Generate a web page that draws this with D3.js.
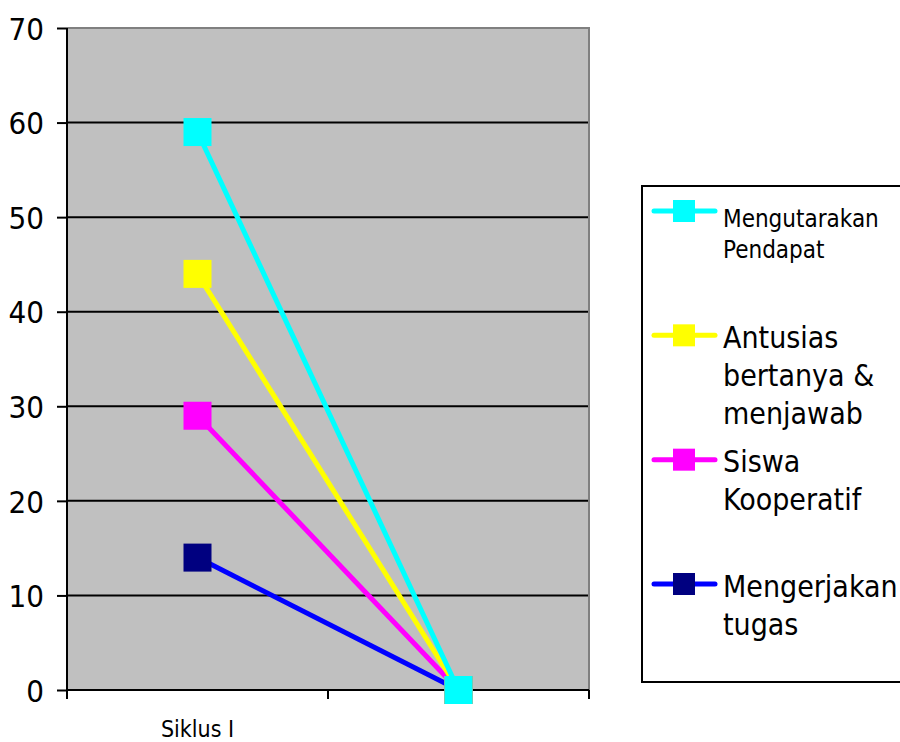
<!DOCTYPE html>
<html>
<head>
<meta charset="utf-8">
<script src="https://cdn.jsdelivr.net/npm/d3@7"></script>
<style>
  html, body { margin: 0; padding: 0; background: #ffffff; }
  svg { display: block; }
  text { font-family: "DejaVu Sans Condensed", "DejaVu Sans", sans-serif; font-stretch: condensed; fill: #000; }
</style>
</head>
<body>
<svg id="chart" width="900" height="742"></svg>
<script>
// Categories on the x axis (second cycle carries no label)
const categories = ["Siklus I", ""];

// Series names (legend lines) and their values per category
const seriesNames = [
  ["Mengutarakan", "Pendapat"],
  ["Antusias", "bertanya &", "menjawab"],
  ["Siswa", "Kooperatif"],
  ["Mengerjakan", "tugas"]
];
const mengutarakanPendapat = [59, 0];
const antusiasBertanya = [44, 0];
const siswaKooperatif = [29, 0];
const mengerjakanTugas = [14, 0];

const yTicks = [0, 10, 20, 30, 40, 50, 60, 70];

// Colours: line colour and marker colour per series
const lineColors = ["#00FFFF", "#FFFF00", "#FF00FF", "#0000FF"];
const markerColors = ["#00FFFF", "#FFFF00", "#FF00FF", "#000080"];

const series = [mengutarakanPendapat, antusiasBertanya, siswaKooperatif, mengerjakanTugas]
  .map((values, i) => ({ name: seriesNames[i], values, line: lineColors[i], marker: markerColors[i], small: i === 0 }));

const svg = d3.select("#chart");

const plot = { left: 67, right: 589, top: 28, bottom: 690 };

const x = d3.scaleBand().domain(d3.range(categories.length)).range([plot.left, plot.right]).padding(0);
const y = d3.scaleLinear().domain([0, 70]).range([plot.bottom, plot.top]);

// Plot background
svg.append("rect")
  .attr("x", plot.left).attr("y", plot.top)
  .attr("width", plot.right - plot.left).attr("height", plot.bottom - plot.top)
  .attr("fill", "#C0C0C0");

// Gridlines
svg.append("g")
  .selectAll("line")
  .data(yTicks.filter(d => d > 0 && d < 70))
  .join("line")
  .attr("x1", plot.left).attr("x2", plot.right)
  .attr("y1", d => y(d)).attr("y2", d => y(d))
  .attr("stroke", "#000").attr("stroke-width", 2);

// Plot border (top and right in grey)
svg.append("path")
  .attr("d", `M${plot.left},${plot.top}H${plot.right}V${plot.bottom}`)
  .attr("fill", "none").attr("stroke", "#808080").attr("stroke-width", 2);

// Y axis
const yAxis = svg.append("g").attr("transform", `translate(${plot.left},0)`)
  .call(d3.axisLeft(y).tickValues(yTicks).tickSize(10).tickPadding(13).tickFormat(d3.format("d")));
yAxis.attr("font-family", null);
yAxis.select(".domain").attr("stroke", "#000").attr("stroke-width", 2).attr("d", `M0,${plot.top}V${plot.bottom}`);
yAxis.selectAll(".tick line").attr("stroke", "#000").attr("stroke-width", 2);
yAxis.selectAll(".tick text")
  .attr("font-size", 31).attr("dy", "0.36em");

// X axis: line plus ticks at category boundaries
const xg = svg.append("g");
xg.append("line")
  .attr("x1", plot.left).attr("x2", plot.right)
  .attr("y1", plot.bottom).attr("y2", plot.bottom)
  .attr("stroke", "#000").attr("stroke-width", 2);
const boundaries = d3.range(categories.length + 1).map(i => i < categories.length ? x(i) : x(i - 1) + x.bandwidth());
xg.selectAll("line.tick")
  .data(boundaries)
  .join("line")
  .attr("class", "tick")
  .attr("x1", d => d).attr("x2", d => d)
  .attr("y1", plot.bottom).attr("y2", plot.bottom + 9)
  .attr("stroke", "#000").attr("stroke-width", 2);
xg.selectAll("text")
  .data(categories)
  .join("text")
  .attr("x", (d, i) => x(i) + x.bandwidth() / 2)
  .attr("y", 737)
  .attr("text-anchor", "middle")
  .attr("font-size", 23)
  .text(d => d);

// Series lines and markers (first series drawn last so it sits on top)
const cx = i => x(i) + x.bandwidth() / 2;
const line = d3.line().x((d, i) => cx(i)).y(d => y(d));
const markerSize = 28;

const sg = svg.append("g")
  .selectAll("g")
  .data(series.slice().reverse())
  .join("g");
sg.append("path")
  .attr("d", d => line(d.values))
  .attr("fill", "none")
  .attr("stroke", d => d.line)
  .attr("stroke-width", 5);
sg.selectAll("rect")
  .data(d => d.values.map((v, i) => ({ v, i, c: d.marker })))
  .join("rect")
  .attr("x", d => cx(d.i) - markerSize / 2)
  .attr("y", d => y(d.v) - markerSize / 2)
  .attr("width", markerSize).attr("height", markerSize)
  .attr("fill", d => d.c);

// Legend
const legendBox = { left: 642, top: 186, right: 912, bottom: 682 };
svg.append("rect")
  .attr("x", legendBox.left).attr("y", legendBox.top)
  .attr("width", legendBox.right - legendBox.left).attr("height", legendBox.bottom - legendBox.top)
  .attr("fill", "#fff").attr("stroke", "#000").attr("stroke-width", 2);

const ly = d3.scalePoint().domain(d3.range(series.length)).range([211, 584]);
const lg = svg.append("g")
  .selectAll("g")
  .data(series)
  .join("g")
  .attr("transform", (d, i) => `translate(0,${ly(i)})`);
lg.append("line")
  .attr("x1", 654).attr("x2", 715)
  .attr("stroke", d => d.line).attr("stroke-width", 5).attr("stroke-linecap", "round");
lg.append("rect")
  .attr("x", 673).attr("y", -11).attr("width", 22).attr("height", 22)
  .attr("fill", d => d.marker);
lg.each(function (d) {
  const fs = d.small ? 24 : 30;
  const lh = d.small ? 31 : 38;
  const first = d.small ? 16 : 12.5;
  const t = d3.select(this).append("text").attr("font-size", fs);
  d.name.forEach((s, k) => {
    t.append("tspan").attr("x", 723).attr("y", first + k * lh).text(s);
  });
});
</script>
</body>
</html>
